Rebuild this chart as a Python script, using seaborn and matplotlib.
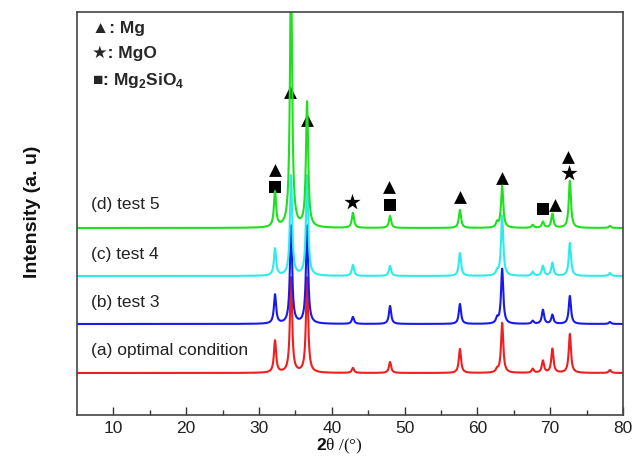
import numpy as np
import pandas as pd
import matplotlib
matplotlib.use("Agg")
import matplotlib.pyplot as plt
import seaborn as sns

# ---- data ----
peak_pos = [32.2, 34.4, 36.6, 42.9, 48.0, 57.6, 62.7, 63.4, 67.6, 69.0, 70.3, 72.7, 78.2]
heights_a = [32, 95, 95, 5, 11, 24, 3, 50, 4, 12, 24, 39, 3]      # (a) optimal condition
heights_b = [29, 98, 98, 7, 18, 20, 5, 55, 3, 14, 9, 28, 2]       # (b) test 3
heights_c = [27, 100, 100, 11, 10, 23, 4, 60, 4, 10, 13, 33, 3]   # (c) test 4
heights_d = [35, 260, 125, 15, 12, 18, 5, 42, 3, 6, 14, 47, 2]   # (d) test 5
offsets = [42, 91, 139, 187]
peak_hwhm = 0.18
sample_names = ["(a) optimal condition", "(b) test 3", "(c) test 4", "(d) test 5"]
colors = ["#F01E1E", "#1A1AE8", "#2EEBEB", "#1EE01E"]

tri_x = [32.2, 34.3, 36.6, 47.8, 57.6, 63.4, 70.6, 72.5]
tri_y = [245, 323, 295, 228, 218, 237, 210, 258]
star_x = [42.8, 72.6]
star_y = [213, 242]
sq_x = [32.2, 48.0, 69.0]
sq_y = [228, 210, 206]

xticks = [10, 20, 30, 40, 50, 60, 70, 80]

# ---- build profiles ----
tt = np.arange(5, 80.001, 0.02)
rows = []
for name, hs, off in zip(sample_names, [heights_a, heights_b, heights_c, heights_d], offsets):
    y = np.full_like(tt, float(off))
    for p, h in zip(peak_pos, hs):
        y += h * peak_hwhm**2 / ((tt - p) ** 2 + peak_hwhm**2)
    rows.append(pd.DataFrame({"2theta": tt, "intensity": y, "sample": name}))
df = pd.concat(rows, ignore_index=True)

sns.set_style("white")
plt.rcParams["font.family"] = ["Liberation Sans", "DejaVu Sans"]
plt.rcParams["mathtext.fontset"] = "custom"
plt.rcParams["mathtext.rm"] = "Liberation Sans"
plt.rcParams["mathtext.bf"] = "Liberation Sans:bold"

fig = plt.figure(figsize=(6.35, 4.59), dpi=100)
ax = fig.add_axes([77 / 635, 1 - 415 / 459, 546 / 635, 403 / 459])

sns.lineplot(data=df, x="2theta", y="intensity", hue="sample", hue_order=sample_names,
             palette=colors, lw=1.5, legend=False, ax=ax, estimator=None, sort=False)

sns.scatterplot(x=tri_x, y=tri_y, marker="^", color="black", s=85, linewidth=0, ax=ax)
sns.scatterplot(x=star_x, y=star_y, marker="*", color="black", s=150, linewidth=0, ax=ax)
sns.scatterplot(x=sq_x, y=sq_y, marker="s", color="black", s=70, linewidth=0, ax=ax)

label_y = [65, 113, 160, 211]
for name, ly in zip(sample_names, label_y):
    ax.text(6.9, ly, name, fontsize=12.5, va="center", ha="left", color="#222222")

fam = ["Liberation Sans", "DejaVu Sans"]
ax.text(0.028, 0.958, "▲: Mg", transform=ax.transAxes, fontsize=12.5, fontweight="bold",
        va="center", family=fam)
ax.text(0.028, 0.898, "★: MgO", transform=ax.transAxes, fontsize=12.5, fontweight="bold",
        va="center", family=fam)
ax.text(0.028, 0.831, r"■: Mg$_\mathbf{2}$SiO$_\mathbf{4}$", transform=ax.transAxes,
        fontsize=12.5, fontweight="bold", va="center", family=fam)

ax.set_xlim(5, 80)
ax.set_ylim(0, 403)
ax.set_xticks(xticks)
ax.set_xticks([15, 25, 35, 45, 55, 65, 75], minor=True)
ax.set_yticks([])
ax.tick_params(axis="x", which="major", direction="in", length=6, width=1, labelsize=12.5,
               colors="#333333", labelcolor="#222222", bottom=True, pad=4)
ax.tick_params(axis="x", which="minor", direction="in", length=3.5, width=1,
               colors="#333333", bottom=True)
for sp in ax.spines.values():
    sp.set_visible(True)
    sp.set_color("#444444")
    sp.set_linewidth(1.2)

ax.set_ylabel("Intensity (a. u)", fontsize=14, fontweight="bold", color="#111111")
ax.yaxis.set_label_coords(-0.066, 0.504)
ax.set_xlabel(r"$\mathbf{2}$θ /(°)", fontsize=12.5, family=["Liberation Serif", "DejaVu Serif"],
              color="#111111")
ax.xaxis.set_label_coords(0.48, -0.053)

fig.savefig("out.png", dpi=100)
